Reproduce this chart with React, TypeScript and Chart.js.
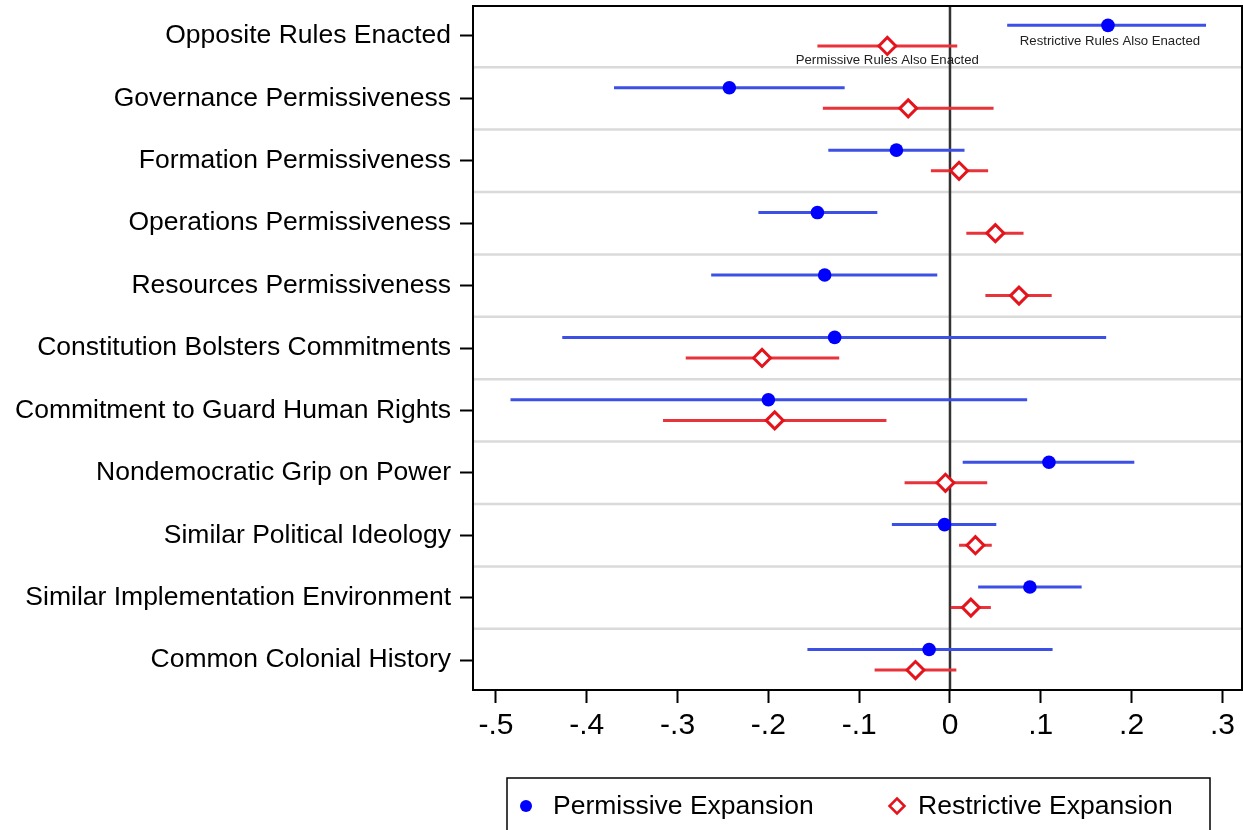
import React, { useEffect, useRef } from 'react';
import { Chart, registerables } from 'chart.js';

Chart.register(...registerables);

const categories = [
  'Opposite Rules Enacted',
  'Governance Permissiveness',
  'Formation Permissiveness',
  'Operations Permissiveness',
  'Resources Permissiveness',
  'Constitution Bolsters Commitments',
  'Commitment to Guard Human Rights',
  'Nondemocratic Grip on Power',
  'Similar Political Ideology',
  'Similar Implementation Environment',
  'Common Colonial History',
];

const permissiveEst = [0.174, -0.243, -0.059, -0.146, -0.138, -0.127, -0.2, 0.109, -0.006, 0.088, -0.023];
const permissiveLo = [0.063, -0.37, -0.134, -0.211, -0.263, -0.427, -0.484, 0.014, -0.064, 0.031, -0.157];
const permissiveHi = [0.282, -0.116, 0.016, -0.08, -0.014, 0.172, 0.085, 0.203, 0.051, 0.145, 0.113];

const restrictiveEst = [-0.069, -0.046, 0.01, 0.05, 0.076, -0.207, -0.193, -0.005, 0.028, 0.023, -0.038];
const restrictiveLo = [-0.146, -0.14, -0.021, 0.018, 0.039, -0.291, -0.316, -0.05, 0.01, 0.001, -0.083];
const restrictiveHi = [0.008, 0.048, 0.042, 0.081, 0.112, -0.122, -0.07, 0.041, 0.046, 0.045, 0.007];

const xTickValues = [-0.5, -0.4, -0.3, -0.2, -0.1, 0, 0.1, 0.2, 0.3];
const xTickLabels = ['-.5', '-.4', '-.3', '-.2', '-.1', '0', '.1', '.2', '.3'];

const seriesLabels = ['Permissive Expansion', 'Restrictive Expansion'];
const annotationLabels = ['Restrictive Rules Also Enacted', 'Permissive Rules Also Enacted'];

const FONT = '"Liberation Sans", Arial, Helvetica, sans-serif';
const BLUE = '#0000ff';
const BLUE_LINE = '#3c50e6';
const RED = '#e3141c';
const RED_LINE = '#e8333b';
const BLUE_OFF = -0.17;
const RED_OFF = 0.16;

const rowPos = (i: number, off: number) => i + 1 + off;

const ciData = (lo: number[], hi: number[], off: number) =>
  lo.flatMap((l, i) => [
    { x: l, y: rowPos(i, off) },
    { x: hi[i], y: rowPos(i, off) },
    { x: null, y: null },
  ]);

const pointData = (est: number[], off: number) => est.map((v, i) => ({ x: v, y: rowPos(i, off) }));

const zeroPadding = (scale: any) => {
  scale.paddingTop = 0;
  scale.paddingBottom = 0;
  scale.paddingLeft = 0;
  scale.paddingRight = 0;
};

const decorPlugin = {
  id: 'decor',
  beforeDatasetsDraw(chart: any) {
    const { ctx, chartArea, scales } = chart;
    const y = scales.y;
    const x = scales.x;
    ctx.save();
    ctx.strokeStyle = '#dadada';
    ctx.lineWidth = 2.5;
    for (let k = 1; k < categories.length; k++) {
      const py = y.getPixelForValue(k + 0.5);
      ctx.beginPath();
      ctx.moveTo(chartArea.left, py);
      ctx.lineTo(chartArea.right, py);
      ctx.stroke();
    }
    const zx = x.getPixelForValue(0);
    ctx.strokeStyle = '#333333';
    ctx.lineWidth = 2.5;
    ctx.beginPath();
    ctx.moveTo(zx, chartArea.top);
    ctx.lineTo(zx, chartArea.bottom);
    ctx.stroke();
    ctx.restore();
  },
  afterDatasetsDraw(chart: any) {
    const { ctx, chartArea, scales } = chart;
    const x = scales.x;
    const y = scales.y;
    ctx.save();
    ctx.font = `13.2px ${FONT}`;
    ctx.fillStyle = '#222';
    ctx.textAlign = 'center';
    ctx.textBaseline = 'middle';
    ctx.fillText(annotationLabels[0], x.getPixelForValue(permissiveEst[0]) + 2, y.getPixelForValue(rowPos(0, BLUE_OFF)) + 16);
    ctx.fillText(annotationLabels[1], x.getPixelForValue(restrictiveEst[0]), y.getPixelForValue(rowPos(0, RED_OFF)) + 14);
    ctx.strokeStyle = '#000';
    ctx.lineWidth = 2;
    ctx.strokeRect(chartArea.left, chartArea.top, chartArea.right - chartArea.left, chartArea.bottom - chartArea.top);
    ctx.restore();
  },
  afterDraw(chart: any) {
    const { ctx } = chart;
    ctx.save();
    ctx.strokeStyle = '#000';
    ctx.lineWidth = 1.5;
    ctx.strokeRect(507, 778, 703, 70);
    const cy = 806;
    ctx.fillStyle = BLUE;
    ctx.beginPath();
    ctx.arc(526, cy, 6, 0, Math.PI * 2);
    ctx.fill();
    ctx.strokeStyle = RED;
    ctx.fillStyle = '#fff';
    ctx.lineWidth = 2.5;
    ctx.beginPath();
    ctx.moveTo(897, cy - 7.5);
    ctx.lineTo(904.5, cy);
    ctx.lineTo(897, cy + 7.5);
    ctx.lineTo(889.5, cy);
    ctx.closePath();
    ctx.fill();
    ctx.stroke();
    ctx.fillStyle = '#000';
    ctx.font = `26.5px ${FONT}`;
    ctx.textAlign = 'left';
    ctx.textBaseline = 'middle';
    ctx.fillText(seriesLabels[0], 553, cy + 1);
    ctx.fillText(seriesLabels[1], 918, cy + 1);
    ctx.restore();
  },
};

export default function App() {
  const ref = useRef<HTMLCanvasElement | null>(null);

  useEffect(() => {
    if (!ref.current) return;
    const chart = new Chart(ref.current, {
      type: 'scatter',
      data: {
        datasets: [
          {
            label: seriesLabels[0],
            data: pointData(permissiveEst, BLUE_OFF),
            pointStyle: 'circle',
            pointRadius: 6.8,
            backgroundColor: BLUE,
            borderWidth: 0,
            order: 1,
          },
          {
            label: seriesLabels[1],
            data: pointData(restrictiveEst, RED_OFF),
            pointStyle: 'rectRot',
            pointRadius: 8.5,
            backgroundColor: '#ffffff',
            borderColor: RED,
            borderWidth: 3,
            order: 2,
          },
          {
            label: 'Permissive CI',
            data: ciData(permissiveLo, permissiveHi, BLUE_OFF) as any,
            showLine: true,
            spanGaps: false,
            pointRadius: 0,
            borderColor: BLUE_LINE,
            borderWidth: 3,
            order: 3,
          },
          {
            label: 'Restrictive CI',
            data: ciData(restrictiveLo, restrictiveHi, RED_OFF) as any,
            showLine: true,
            spanGaps: false,
            pointRadius: 0,
            borderColor: RED_LINE,
            borderWidth: 3,
            order: 4,
          },
        ],
      },
      options: {
        responsive: false,
        animation: false,
        events: [],
        layout: { autoPadding: false, padding: { top: 6, right: 1, left: 0, bottom: 0 } },
        plugins: {
          legend: { display: false },
          tooltip: { enabled: false },
        },
        scales: {
          x: {
            type: 'linear',
            min: -0.5253,
            max: 0.3216,
            afterBuildTicks: (scale: any) => {
              scale.ticks = xTickValues.map((v) => ({ value: v }));
            },
            afterFit: (scale: any) => {
              scale.height = 140;
              zeroPadding(scale);
            },
            ticks: {
              color: '#000',
              font: { family: FONT, size: 30 },
              padding: 5,
              maxRotation: 0,
              autoSkip: false,
              callback: (v: any) => {
                const idx = xTickValues.findIndex((t) => Math.abs(t - Number(v)) < 1e-6);
                return idx >= 0 ? xTickLabels[idx] : '';
              },
            },
            grid: {
              display: true,
              drawOnChartArea: false,
              drawTicks: true,
              tickLength: 13,
              tickColor: '#000',
              tickWidth: 2,
            },
            border: { display: true, color: '#000', width: 2 },
          },
          y: {
            type: 'linear',
            reverse: true,
            min: 0.52,
            max: 11.48,
            afterBuildTicks: (scale: any) => {
              scale.ticks = categories.map((_, i) => ({ value: i + 1 }));
            },
            afterFit: (scale: any) => {
              scale.width = 473;
              zeroPadding(scale);
            },
            ticks: {
              color: '#000',
              font: { family: FONT, size: 26.5 },
              padding: 9,
              autoSkip: false,
              callback: (v: any) => categories[Math.round(Number(v)) - 1] ?? '',
            },
            grid: {
              display: true,
              drawOnChartArea: false,
              drawTicks: true,
              tickLength: 13,
              tickColor: '#000',
              tickWidth: 2,
            },
            border: { display: true, color: '#000', width: 2 },
          },
        },
      },
      plugins: [decorPlugin],
    });
    return () => chart.destroy();
  }, []);

  return (
    <div style={{ position: 'fixed', left: 0, top: 0, width: 1243, height: 830, background: '#fff' }}>
      <canvas ref={ref} width={1243} height={830} />
    </div>
  );
}
